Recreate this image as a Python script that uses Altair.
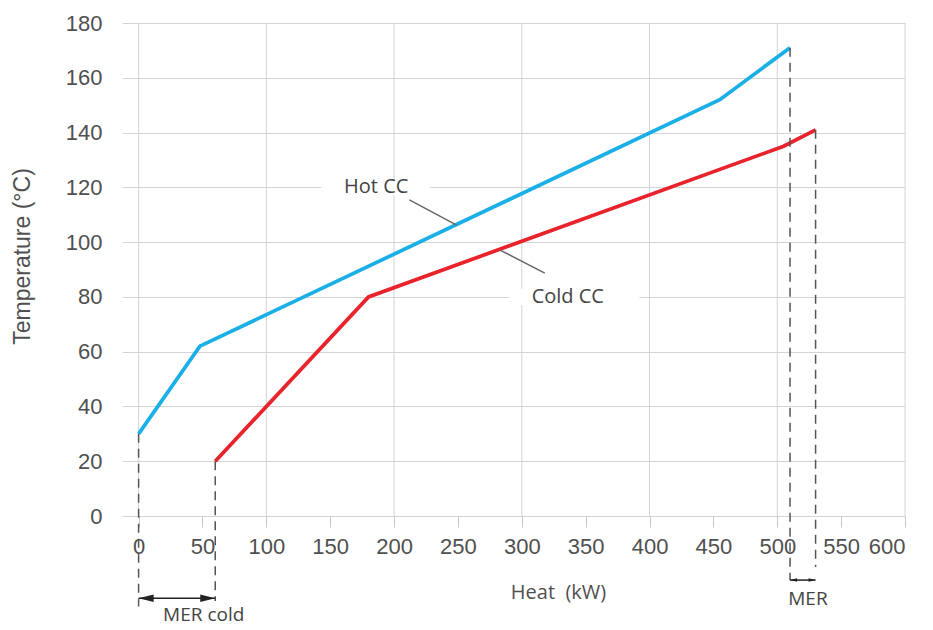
import altair as alt
import pandas as pd

# Composite curves (Heat kW, Temperature °C)
hot_x = [0, 48, 455, 510]
hot_y = [30, 62, 152, 171]
cold_x = [60, 180, 505, 530]
cold_y = [20, 80, 135, 141]

x_ticks = [0, 50, 100, 150, 200, 250, 300, 350, 400, 450, 500, 550, 600]
x_grid = [0, 100, 200, 300, 400, 500, 600]
y_ticks = [0, 20, 40, 60, 80, 100, 120, 140, 160, 180]

# dashed verticals: x, top y, bottom y
dash_x = [0, 60, 510, 530]
dash_top = [30, 20, 171, 141]
dash_bot = [-33, -31, -23.4, -18.6]

# double arrows: x start, x end, y
arr_x1 = [0, 510]
arr_x2 = [60, 530]
arr_y = [-30, -23.4]

# leader lines for labels
lead_x1 = [212, 283]
lead_y1 = [115.4, 97.1]
lead_x2 = [249, 318]
lead_y2 = [106.2, 88.7]

# labels
lab_text = ["Hot CC", "Cold CC"]
lab_x = [186, 336]
lab_y = [120, 80]
box_x1 = [143, 290]
box_x2 = [228, 392]

mer_text = ["MER cold", "MER"]
mer_x = [51, 524]
mer_y = [-36.3, -30.3]

curves = pd.DataFrame({
    "Heat": hot_x + cold_x,
    "Temp": hot_y + cold_y,
    "curve": ["Hot CC"] * len(hot_x) + ["Cold CC"] * len(cold_x),
    "i": list(range(len(hot_x))) + list(range(len(cold_x))),
})

xs = alt.Scale(domain=[-13, 600], nice=False, zero=False)
ys = alt.Scale(domain=[0, 180], nice=False, zero=False)

FONT = "Liberation Sans"
AFONT = "Open Sans"

base = alt.Chart(curves)

xaxis = alt.Axis(values=x_ticks, grid=False, domain=False, tickSize=11,
                 tickColor="#c8c8c8", tickWidth=1, labelPadding=9,
                 labelFontSize=22, labelFont=FONT, labelColor="#505050",
                 title="Heat\u00a0 (kW)", titleFont=AFONT, titleFontSize=20,
                 titleFontWeight="normal", titleColor="#505050",
                 titleX=436, titleY=76, titleAlign="center", titleBaseline="middle")
yaxis = alt.Axis(values=y_ticks, grid=True, gridColor="#d4d4d4", gridWidth=1,
                 domain=False, ticks=False, labelPadding=20,
                 labelFontSize=22, labelFont=FONT, labelColor="#505050",
                 title="Temperature (°C)", titleFont=FONT, titleFontSize=23,
                 titleFontWeight="normal", titleColor="#505050",
                 titleAngle=270, titleX=-100, titleY=233,
                 titleAlign="center", titleBaseline="middle")

vgrid = alt.Chart(pd.DataFrame({"g": x_grid})).mark_rule(
    color="#d4d4d4", strokeWidth=1
).encode(
    x=alt.X("g:Q", scale=xs, axis=xaxis),
    y=alt.datum(0, scale=ys, axis=yaxis),
    y2=alt.datum(180),
)

boxes = alt.Chart(pd.DataFrame({"x1": box_x1, "x2": box_x2, "y": lab_y})).transform_calculate(
    y1="datum.y - 3", y2="datum.y + 3"
).mark_rect(color="white").encode(
    x=alt.X("x1:Q", scale=xs),
    x2="x2:Q",
    y=alt.Y("y1:Q", scale=ys),
    y2="y2:Q",
)

lines = base.mark_line(strokeWidth=3.7).encode(
    x=alt.X("Heat:Q", scale=xs),
    y=alt.Y("Temp:Q", scale=ys),
    color=alt.Color("curve:N", scale=alt.Scale(domain=["Hot CC", "Cold CC"],
                                               range=["#1AAFE6", "#E8232B"]),
                    legend=None),
    order="i:Q",
    detail="curve:N",
)

dashed = alt.Chart(pd.DataFrame({"x": dash_x, "y1": dash_top, "y2": dash_bot})).mark_rule(
    color="#555555", strokeWidth=1.5, strokeDash=[9, 6]
).encode(x=alt.X("x:Q", scale=xs), y=alt.Y("y1:Q", scale=ys), y2="y2:Q")

arr_df = pd.DataFrame({"x1": arr_x1, "x2": arr_x2, "y": arr_y})
shafts = alt.Chart(arr_df).mark_rule(color="#222222", strokeWidth=1.5).encode(
    x=alt.X("x1:Q", scale=xs), x2="x2:Q", y=alt.Y("y:Q", scale=ys)
)
head_l_big = alt.Chart(arr_df.iloc[[0]]).mark_point(
    shape="M-1,0L1,-0.5L1,0.5Z", filled=True, size=225, color="#222222",
    opacity=1, xOffset=7.5
).encode(x=alt.X("x1:Q", scale=xs), y=alt.Y("y:Q", scale=ys))
head_r_big = alt.Chart(arr_df.iloc[[0]]).mark_point(
    shape="M1,0L-1,-0.5L-1,0.5Z", filled=True, size=225, color="#222222",
    opacity=1, xOffset=-7.5
).encode(x=alt.X("x2:Q", scale=xs), y=alt.Y("y:Q", scale=ys))
head_l_small = alt.Chart(arr_df.iloc[[1]]).mark_point(
    shape="M-1,0L1,-0.5L1,0.5Z", filled=True, size=49, color="#222222",
    opacity=1, xOffset=3.5
).encode(x=alt.X("x1:Q", scale=xs), y=alt.Y("y:Q", scale=ys))
head_r_small = alt.Chart(arr_df.iloc[[1]]).mark_point(
    shape="M1,0L-1,-0.5L-1,0.5Z", filled=True, size=49, color="#222222",
    opacity=1, xOffset=-3.5
).encode(x=alt.X("x2:Q", scale=xs), y=alt.Y("y:Q", scale=ys))

leaders = alt.Chart(pd.DataFrame({"x1": lead_x1, "y1": lead_y1,
                                  "x2": lead_x2, "y2": lead_y2})).mark_rule(
    color="#666666", strokeWidth=1.5
).encode(x=alt.X("x1:Q", scale=xs), y=alt.Y("y1:Q", scale=ys), x2="x2:Q", y2="y2:Q")

labels = alt.Chart(pd.DataFrame({"t": lab_text, "x": lab_x, "y": lab_y})).mark_text(
    font=AFONT, fontSize=20, color="#444444", align="center", baseline="middle"
).encode(x=alt.X("x:Q", scale=xs), y=alt.Y("y:Q", scale=ys), text="t:N")

mer_labels = alt.Chart(pd.DataFrame({"t": mer_text, "x": mer_x, "y": mer_y})).mark_text(
    font=AFONT, fontSize=19, color="#444444", align="center", baseline="middle"
).encode(x=alt.X("x:Q", scale=xs), y=alt.Y("y:Q", scale=ys), text="t:N")

chart = alt.layer(
    vgrid, boxes, lines, dashed, shafts, head_l_big, head_r_big,
    head_l_small, head_r_small, leaders, labels, mer_labels
).properties(
    width=783, height=493,
    autosize=alt.AutoSizeParams(type="none"),
    padding={"left": 114, "top": 15, "right": 10, "bottom": 112},
).configure_view(stroke=None)

chart.save("out.html", embed_options={"renderer": "svg", "actions": False})
